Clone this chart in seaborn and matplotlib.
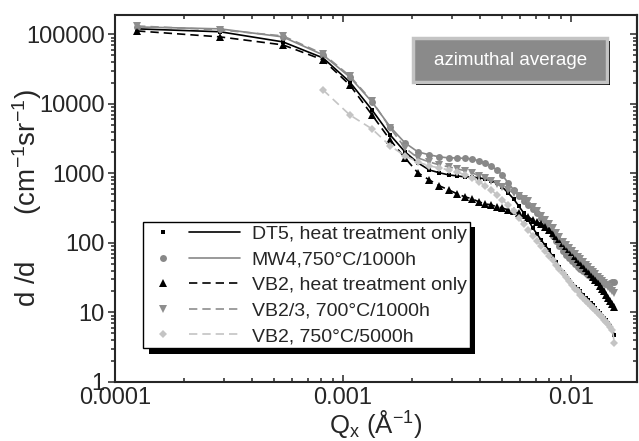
import numpy as np
import pandas as pd
import seaborn as sns
import matplotlib
matplotlib.use('Agg')
import matplotlib.pyplot as plt
from matplotlib import ticker
from matplotlib.lines import Line2D
from matplotlib.patches import Rectangle
import matplotlib.patheffects as pe

# scattering vector Q (1/Angstrom)
q = [0.000125, 0.000289, 0.000545, 0.000817, 0.00107, 0.00134, 0.00161, 0.00187,
     0.00213, 0.00239, 0.00265, 0.00291, 0.00317, 0.00343, 0.00369, 0.00395,
     0.00421, 0.00447, 0.00473, 0.00499, 0.0053, 0.0056, 0.0059, 0.0062,
     0.0065, 0.0068, 0.0071, 0.0074, 0.0077, 0.0080, 0.0083, 0.0086,
     0.0089, 0.0092, 0.0095, 0.0098, 0.0101, 0.0104, 0.0107, 0.0110,
     0.0113, 0.0116, 0.0119, 0.0122, 0.0125, 0.0128, 0.0131, 0.0134,
     0.0137, 0.0140, 0.0143, 0.0146, 0.0149, 0.0152, 0.0155]
q_750 = q[3:]

dt5 = [120000, 109000, 78000, 45900, 20700, 8200, 3580, 2040, 1420, 1120, 1020,
       950, 920, 890, 890, 860, 834, 780, 730, 640, 524, 430, 340, 270, 214, 164,
       134, 110, 93, 79, 64, 53, 45, 38, 33, 29, 26, 23, 21.5, 20, 18, 16, 15,
       13.7, 12.6, 11.6, 10.6, 9.8, 9.0, 8.3, 7.7, 7.1, 6.3, 5.6, 4.7]
mw4 = [128000, 120000, 92000, 50700, 24400, 10700, 4670, 2750, 2040, 1850, 1730,
       1670, 1670, 1640, 1620, 1510, 1420, 1280, 1120, 950, 730, 580, 475, 400,
       352, 305, 265, 225, 188, 154, 126, 107, 91, 77, 67, 61, 55, 50, 45, 42,
       40, 37, 35, 32, 31, 30, 29, 28, 27.5, 26.6, 25.7, 25.7, 26.6, 27.5, 27.5]
vb2 = [112000, 92000, 70600, 43000, 18800, 6950, 3030, 1670, 1020, 806, 661,
       579, 507, 459, 430, 389, 364, 352, 330, 319, 298, 289, 270, 253, 237, 214,
       200, 188, 170, 154, 139, 126, 114, 100, 91, 82, 74, 65, 59, 53, 48, 44,
       40, 36, 32, 29, 27, 24, 22, 20, 18, 16, 14.6, 13.3, 12]
vb2_3 = [132000, 116000, 95000, 52400, 25300, 11000, 4520, 2330, 1670, 1460, 1325,
         1240, 1160, 1090, 1020, 920, 861, 780, 706, 640, 579, 524, 475, 430,
         402, 330, 289, 245, 214, 188, 164, 139, 122, 103, 94, 85, 77, 69, 63,
         59, 53, 48, 45, 41, 38, 36, 32, 30, 28, 26.6, 25, 23, 22, 20, 19]
vb2_750 = [15900, 6950, 4370, 2490, 1790, 1460, 1280, 1200, 1120, 1050, 950, 861,
           755, 661, 579, 491, 416, 352, 289, 229, 188, 154, 126, 107, 91, 77, 65,
           57, 48, 42, 37, 32, 28, 25, 22, 20, 18, 16, 14.6, 13.7, 12.4, 11.6,
           10.9, 9.8, 9.2, 8.6, 7.8, 7.3, 6.8, 6.2, 5.6, 3.6]

labels = ['DT5, heat treatment only', 'MW4,750°C/1000h', 'VB2, heat treatment only',
          'VB2/3, 700°C/1000h', 'VB2, 750°C/5000h']

sns.set_style('ticks')
plt.rcParams['font.family'] = ['Liberation Sans', 'DejaVu Sans']
plt.rcParams['mathtext.default'] = 'regular'

dash = (0, (5, 3))
styles = [
    dict(color='black', marker='s', markersize=3.2, linestyle='-'),
    dict(color='#888888', marker='o', markersize=5, linestyle='-'),
    dict(color='black', marker='^', markersize=5.5, linestyle=dash),
    dict(color='#8e8e8e', marker='v', markersize=5.5, linestyle=dash),
    dict(color='#c4c4c4', marker='D', markersize=4, linestyle=dash),
]
series = [(q, dt5), (q, mw4), (q, vb2), (q, vb2_3), (q_750, vb2_750)]

fig = plt.figure(figsize=(6.39, 4.41), dpi=100)
ax = fig.add_axes([0.180, 0.134, 0.817, 0.832])

handles = []
for (xs, ys), st in zip(series, styles):
    sns.lineplot(x=xs, y=ys, ax=ax, sort=False, legend=False, linewidth=1.2,
                 markeredgewidth=0, **st)
    handles.append(ax.lines[-1])

ax.set_xscale('log')
ax.set_yscale('log')
ax.set_xlim(0.0001, 0.0195)
ax.set_ylim(1, 1.9e5)

fmt = ticker.FuncFormatter(lambda v, p: f'{v:g}')
ax.xaxis.set_major_formatter(fmt)
ax.yaxis.set_major_formatter(fmt)
ax.xaxis.set_minor_formatter(ticker.NullFormatter())
ax.yaxis.set_minor_formatter(ticker.NullFormatter())
ax.xaxis.set_minor_locator(ticker.LogLocator(base=10, subs=np.arange(2, 10), numticks=20))
ax.yaxis.set_minor_locator(ticker.LogLocator(base=10, subs=np.arange(2, 10), numticks=20))

for s in ax.spines.values():
    s.set_visible(True)
    s.set_linewidth(1.5)
ax.tick_params(axis='x', which='both', direction='in', top=True, bottom=True,
               width=1.1, labelsize=17, pad=4)
ax.tick_params(axis='y', which='both', direction='out', left=True, right=False,
               width=1.1, labelsize=17, pad=2.5)
ax.tick_params(which='major', length=5)
ax.tick_params(which='minor', length=3)

ax_r = ax.secondary_yaxis('right')
ax_r.yaxis.set_minor_locator(ticker.LogLocator(base=10, subs=np.arange(2, 10), numticks=20))
ax_r.tick_params(which='both', direction='in', labelright=False, width=1.1)
ax_r.tick_params(which='major', length=5)
ax_r.tick_params(which='minor', length=3)
ax_r.spines['right'].set_linewidth(1.5)

ax.set_xlabel('Q$_{x}$ (Å$^{-1}$)', fontsize=18.5, labelpad=-1)
ax.set_ylabel('d /d      (cm$^{-1}$sr$^{-1}$)', fontsize=20)
ax.yaxis.set_label_coords(-0.136, 0.5)


class MarkerLineHandler:
    def legend_artist(self, legend, orig_handle, fontsize, handlebox):
        x0, y0 = -handlebox.xdescent, -handlebox.ydescent
        w, h = handlebox.width, handlebox.height
        ym = y0 + h / 2
        mk = Line2D([x0 + 0.18 * w], [ym])
        mk.update_from(orig_handle)
        mk.set_linestyle('none')
        ln = Line2D([x0 + 0.46 * w, x0 + w], [ym, ym])
        ln.update_from(orig_handle)
        ln.set_marker('none')
        for a in (mk, ln):
            a.set_transform(handlebox.get_transform())
            handlebox.add_artist(a)
        return ln


leg = ax.legend(handles, labels, handler_map={Line2D: MarkerLineHandler()},
                loc='upper left', bbox_to_anchor=(0.054, 0.436), borderaxespad=0,
                fontsize=14, frameon=True, fancybox=False, framealpha=1,
                edgecolor='black', handlelength=4.8, handletextpad=0.6,
                labelspacing=0.41, borderpad=0.17)
leg.get_frame().set_linewidth(1.0)
leg.legendPatch.set_path_effects([
    pe.SimplePatchShadow(offset=(4, -4), shadow_rgbFace='black', alpha=1),
    pe.Normal()])

box = Rectangle((0.571, 0.817), 0.372, 0.12, transform=ax.transAxes,
                facecolor='#8a8a8a', edgecolor='#c4c4c4', linewidth=2.5, zorder=5)
box.set_path_effects([
    pe.SimplePatchShadow(offset=(2, -2), shadow_rgbFace='black', alpha=1),
    pe.Normal()])
ax.add_patch(box)
ax.text(0.757, 0.877, 'azimuthal average', transform=ax.transAxes, color='white',
        fontsize=13.5, ha='center', va='center', zorder=6)

fig.savefig('out.png', dpi=100)
